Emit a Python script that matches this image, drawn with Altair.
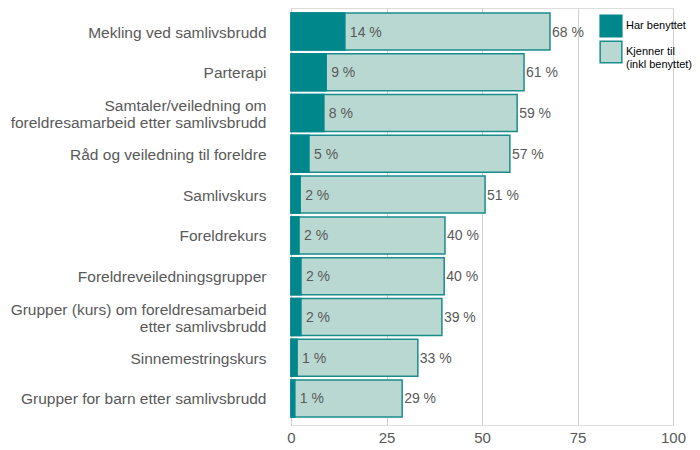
import altair as alt
import pandas as pd

categories = [
    "Mekling ved samlivsbrudd",
    "Parterapi",
    "Samtaler/veiledning om\nforeldresamarbeid etter samlivsbrudd",
    "Råd og veiledning til foreldre",
    "Samlivskurs",
    "Foreldrekurs",
    "Foreldreveiledningsgrupper",
    "Grupper (kurs) om foreldresamarbeid\netter samlivsbrudd",
    "Sinnemestringskurs",
    "Grupper for barn etter samlivsbrudd",
]
kjenner = [67.8, 61.0, 59.2, 57.3, 50.8, 40.3, 40.1, 39.5, 33.2, 29.1]
kjenner_lbl = [68, 61, 59, 57, 51, 40, 40, 39, 33, 29]
benyttet = [14.1, 9.2, 8.6, 4.7, 2.4, 2.1, 2.6, 2.6, 1.6, 1.0]
benyttet_lbl = [14, 9, 8, 5, 2, 2, 2, 2, 1, 1]

S_LIGHT = "Kjenner til\n(inkl benyttet)"
S_DARK = "Har benyttet"

rows = []
for c, v, l in zip(categories, kjenner, kjenner_lbl):
    rows.append({"cat": c, "series": S_LIGHT, "value": v, "label": f"{l} %", "z": 0})
for c, v, l in zip(categories, benyttet, benyttet_lbl):
    rows.append({"cat": c, "series": S_DARK, "value": v, "label": f"{l} %", "z": 1})
df = pd.DataFrame(rows)

DARK = "#00878c"
LIGHT = "#bad8d2"
EDGE = "#1a8c8c"
TXT = "#595959"

yenc = alt.Y(
    "cat:N",
    sort=categories,
    title=None,
    scale=alt.Scale(paddingInner=0.093, paddingOuter=0.16, align=0.385),
    axis=alt.Axis(
        labelExpr="split(datum.label, '\\n')",
        labelLimit=320,
        labelFontSize=15.5,
        labelColor=TXT,
        labelFont="Liberation Sans",
        labelLineHeight=17,
        labelPadding=25,
        labelOffset={"condition": {"test": "indexof(datum.label, '\\n') >= 0", "value": -7}, "value": 1},
        ticks=False,
        domain=False,
        grid=False,
    ),
)

xenc = alt.X(
    "value:Q",
    stack=None,
    title=None,
    scale=alt.Scale(domain=[0, 100], nice=False),
    axis=alt.Axis(
        values=[0, 25, 50, 75, 100],
        labelFontSize=15,
        labelColor=TXT,
        labelFont="Liberation Sans",
        ticks=False,
        domain=False,
        grid=True,
        gridColor="#d0d0d0",
        labelPadding=5,
        labelFlush=False,
    ),
)

bars = alt.Chart(df).mark_bar(strokeWidth=1.5).encode(
    y=yenc,
    x=xenc,
    fill=alt.Fill(
        "series:N",
        scale=alt.Scale(domain=[S_DARK, S_LIGHT], range=[DARK, LIGHT]),
        legend=alt.Legend(
            title=None,
            orient="none",
            legendX=308,
            legendY=6,
            symbolType="square",
            symbolSize=470,
            symbolStrokeWidth=1.5,
            symbolOpacity=1,
            labelFontSize=11,
            labelFont="Liberation Sans",
            labelColor="#000000",
            labelExpr="split(datum.label, '\\n')",
            labelOffset=3,
            labelLimit=200,
            rowPadding=-6,
            padding=0,
        ),
    ),
    stroke=alt.Stroke(
        "series:N",
        scale=alt.Scale(domain=[S_DARK, S_LIGHT], range=[DARK, EDGE]),
        legend=None,
    ),
    order=alt.Order("z:Q"),
)

light_text = alt.Chart(df).transform_filter(
    alt.datum.series == S_LIGHT
).mark_text(align="left", baseline="middle", dx=2, dy=1, fontSize=14, font="Liberation Sans", color=TXT).encode(
    y=alt.Y("cat:N", sort=categories),
    x=alt.X("value:Q"),
    text="label:N",
)

dark_text = alt.Chart(df).transform_filter(
    alt.datum.series == S_DARK
).mark_text(align="left", baseline="middle", dx=5, dy=1, fontSize=14, font="Liberation Sans", color=TXT).encode(
    y=alt.Y("cat:N", sort=categories),
    x=alt.X("value:Q"),
    text="label:N",
)

chart = alt.layer(bars, light_text, dark_text).properties(
    width=382,
    height=417,
    autosize=alt.AutoSizeParams(type="none"),
    padding={"left": 283, "top": 0, "right": 19, "bottom": 25},
).configure_view(stroke=None).configure(background="white")

chart.save("out.html", embed_options={"renderer": "svg", "actions": False})
